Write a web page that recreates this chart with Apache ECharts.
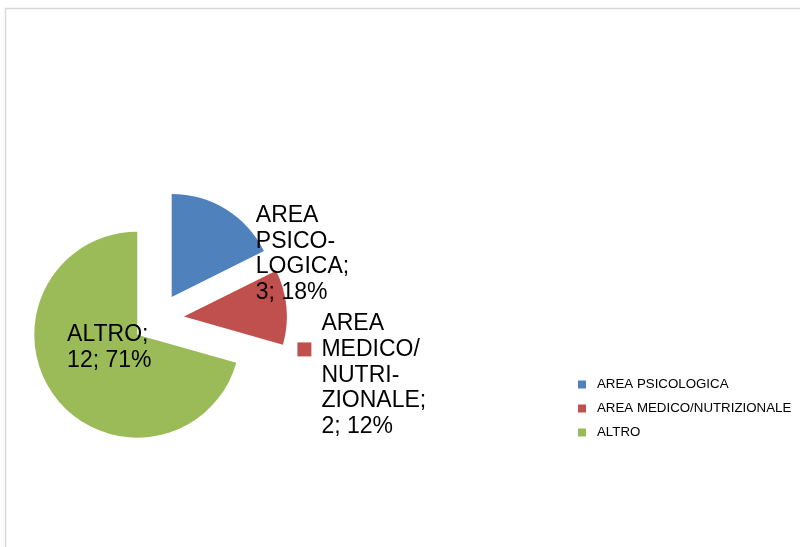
<!DOCTYPE html>
<html>
<head>
<meta charset="utf-8">
<script src="https://cdn.jsdelivr.net/npm/echarts@6/dist/echarts.min.js"></script>
<style>html,body{margin:0;padding:0;background:#fff;}#c{width:800px;height:547px;}</style>
</head>
<body>
<div id="c"></div>
<script>
const categories = ['AREA PSICOLOGICA', 'AREA MEDICO/NUTRIZIONALE', 'ALTRO'];
const values = [3, 2, 12];
const percents = ['18%', '12%', '71%'];
const labelLines = [
  ['AREA', 'PSICO-', 'LOGICA;'],
  ['AREA', 'MEDICO/', 'NUTRI-', 'ZIONALE;'],
  ['ALTRO;']
];
const colors = ['#4F81BD', '#C0504D', '#9BBB59'];
const labelShift = [[-13, 6], [-39, 5], [59, -84]];

const chart = echarts.init(document.getElementById('c'));
const FONT = 'Liberation Sans';

function labelText(i) {
  const lines = labelLines[i].slice();
  lines.push(values[i] + '; ' + percents[i]);
  if (i === 1) {
    return lines.map((l, k) => (k === 1 ? '{sq| }{gap| }' : '{pad| }') + '{t|' + l + '}').join('\n');
  }
  return lines.map(l => '{t|' + l + '}').join('\n');
}

const data = categories.map((c, i) => ({
  name: c,
  value: values[i],
  selected: true,
  itemStyle: { color: colors[i] },
  label: { formatter: labelText(i) }
}));

chart.setOption({
  animation: false,
  backgroundColor: '#fff',
  graphic: [{
    type: 'rect',
    shape: { x: 5.5, y: 8.5, width: 900, height: 700 },
    style: { fill: 'none', stroke: '#d9d9d9', lineWidth: 1.5 },
    silent: true
  }],
  legend: {
    orient: 'vertical',
    left: 578,
    top: 378,
    padding: 0,
    icon: 'rect',
    itemWidth: 8,
    itemHeight: 8,
    itemGap: 11,
    selectedMode: false,
    textStyle: { fontFamily: FONT, fontSize: 13.3, color: '#000', padding: [0, 0, 0, 6] },
    data: categories
  },
  series: [{
    type: 'pie',
    center: [158, 319],
    radius: 103,
    startAngle: 90,
    clockwise: true,
    selectedMode: 'multiple',
    selectedOffset: 26,
    avoidLabelOverlap: false,
    emphasis: { disabled: true },
    labelLine: { show: false },
    label: {
      show: true,
      position: 'outside',
      color: '#000',
      rich: {
        t: { fontFamily: FONT, fontSize: 23, lineHeight: 25.8, color: '#000' },
        pad: { width: 24, fontSize: 23, lineHeight: 25.8 },
        sq: { width: 14, height: 14, backgroundColor: '#C0504D', fontSize: 1 },
        gap: { width: 10, fontSize: 23, lineHeight: 25.8 }
      }
    },
    labelLayout: function (params) {
      const s = labelShift[params.dataIndex];
      return { dx: s[0], dy: s[1], align: 'left', verticalAlign: 'top' };
    },
    data: data
  }]
});
</script>
</body>
</html>
